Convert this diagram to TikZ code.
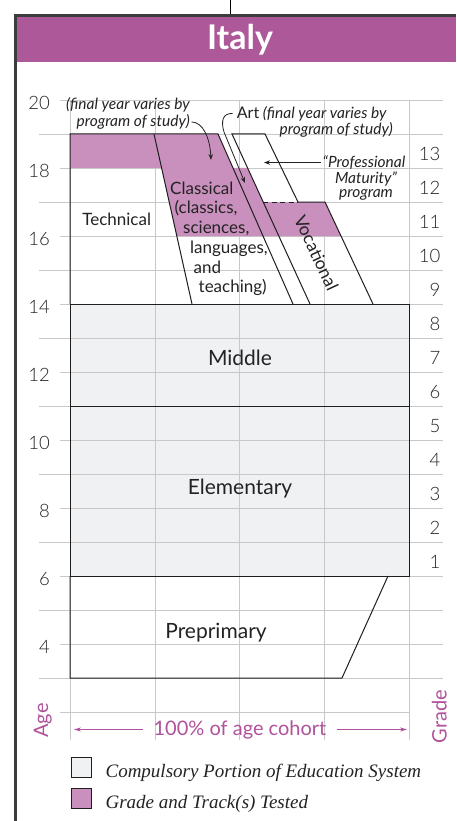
\documentclass[tikz,border=0pt]{standalone}
\usepackage{fontspec}
\setmainfont{Lato}
\IfFontExistsTF{Lato Light}{\newfontfamily\numfont{Lato Light}}{\newfontfamily\numfont{Lato}}
\newfontfamily\legendfont{Liberation Serif}
\usetikzlibrary{arrows.meta,positioning}
\definecolor{hdr}{RGB}{173,89,153}
\definecolor{testc}{RGB}{201,143,189}
\definecolor{compul}{RGB}{240,241,243}
\definecolor{gridc}{RGB}{200,200,200}
\definecolor{axisc}{RGB}{176,82,156}
\definecolor{framec}{RGB}{60,60,60}
\definecolor{boxc}{RGB}{30,30,30}
\definecolor{txtc}{RGB}{35,35,35}
\tikzset{
  gridline/.style={draw=gridc,line width=0.8pt},
  boxline/.style={draw=boxc,line width=1pt},
  stagelabel/.style={font=\fontsize{21}{24}\selectfont,text=txtc,inner sep=0pt,anchor=base},
  tracklabel/.style={font=\fontsize{17}{20}\selectfont,text=txtc,inner sep=0pt},
  agelabel/.style={font=\numfont\fontsize{18.5}{20}\selectfont,text=txtc,inner sep=0pt,anchor=base east},
  note/.style={font=\itshape\fontsize{15.5}{17}\selectfont,text=txtc,inner sep=0pt},
  notearrow/.style={-{Stealth[length=6pt,width=4.5pt]},draw=txtc,line width=0.8pt},
  axislabel/.style={font=\fontsize{20}{22}\selectfont,text=axisc,inner sep=0pt,anchor=base},
  axisarrow/.style={-{Stealth[length=7pt,width=4pt]},draw=axisc,line width=0.8pt},
  legbox/.style={draw=boxc,line width=0.8pt,minimum size=20pt,inner sep=0pt},
  legtext/.style={font=\legendfont\itshape\fontsize{19}{22}\selectfont,text=txtc,inner sep=0pt}
}

\begin{document}
\begin{tikzpicture}[x=1pt,y=-1pt]
\useasboundingbox[fill=white] (0,0) rectangle (456,821);

% header and frame
\draw[line width=0.8pt] (230,0) -- (230,14);
\fill[hdr] (16,16) rectangle (456,62);
\draw[framec,line width=2.6pt] (15.3,821) -- (15.3,15.3) -- (456,15.3);
\node[font=\bfseries\fontsize{34}{36}\selectfont,text=white,inner sep=0pt,anchor=base] (title) at (240,49.5) {Italy};

% compulsory part
\fill[compul] (70,304) rectangle (409.5,576);

% grid
\foreach \a in {3,5,...,19} \draw[gridline] (39,780-34*\a) -- (443,780-34*\a);
\foreach \a in {4,6,...,20} \draw[gridline] (60,780-34*\a) -- (443,780-34*\a);
\draw[gridline] (60,712) -- (409.5,712);
\foreach \x in {70,154.9,239.8,324.6,409.5} \draw[gridline] (\x,100) -- (\x,740);

% tested grades
\fill[testc] (70,134) -- (218,134) -- (233,168) -- (247.6,168) -- (263.2,202) -- (325,202)
  -- (341,236) -- (176.8,236) -- (161.6,168) -- (70,168) -- cycle;

% tracks
\draw[boxline] (70,304) -- (70,134) -- (218,134) -- (293,304);
\draw[boxline] (154,134) -- (192,304);
\draw[boxline] (310,304) -- (232,134) -- (265,134) -- (298,202) -- (325,202) -- (373,304);
\draw[boxline,dash pattern=on 5pt off 3.5pt] (263.2,202) -- (298,202);
\draw[boxline] (70,304) rectangle (409.5,406);
\draw[boxline] (70,406) rectangle (409.5,576);
\draw[boxline] (388,576) -- (342,678) -- (70,678) -- (70,576);

% ages and grades
\foreach \a in {4,6,...,20} \node[agelabel] (age\a) at (50,789.5-34*\a) {\a};
\foreach \g in {1,...,13} \node[agelabel] (grade\g) at (440.5,602.3-34*\g) {\g};

% stage names
\node[stagelabel] (middle) at (240,365) {Middle};
\node[stagelabel] (elem) at (240,494) {Elementary};
\node[stagelabel] (prep) at (216,638) {Preprimary};
\node[tracklabel,anchor=base] (tech) at (116.7,225) {Technical};
\node[tracklabel,anchor=base west] (clsA) at (170,194) {Classical};
\node[tracklabel,anchor=base west] (clsB) at (174.5,213.7) {(classics,};
\node[tracklabel,anchor=base west] (clsC) at (183,233.5) {sciences,};
\node[tracklabel,anchor=base west] (clsD) at (190,253.3) {languages,};
\node[tracklabel,anchor=base west] (clsE) at (193.5,273) {and};
\node[tracklabel,anchor=base west] (clsF) at (198.5,292.8) {teaching)};
\node[tracklabel,font=\fontsize{17.5}{20}\selectfont,rotate=-65] (voc) at (316.5,253) {Vocational};

% notes
\node[note,anchor=base east] (finalA) at (190,110) {(final year varies by};
\node[note,anchor=base east] (finalB) at (190,126.5) {program of study)};
\coordinate (finaltip) at (211,160);
\draw[notearrow,shorten <=1.5pt] (finalB.east) .. controls (203,122) and (210,138) .. (finaltip);

\node[note,anchor=base west] (artA) at (236.7,118.3) {{\upshape\fontsize{16}{18}\selectfont Art} (final year varies by};
\node[note,anchor=base east] (artB) at (393,134.5) {program of study)};
\coordinate (arttip) at (245,183);
\draw[notearrow,shorten <=4pt] (artA.west) .. controls (222,113) and (221,122) .. (224,132) -- (arttip);

\node[note,anchor=base] (pmA) at (364,167.5) {“Professional};
\node[note,anchor=base] (pmB) at (366,183) {Maturity”};
\node[note,anchor=base] (pmC) at (366,197.5) {program};
\coordinate (pmtip) at (264,0);
\draw[notearrow,shorten <=2pt] (pmA.west) -- (pmA.west -| pmtip);

% axis titles
\node[axislabel,rotate=90] (agetitle) at (48,720.5) {Age};
\node[axislabel,rotate=90] (gradetitle) at (446.5,716.7) {Grade};
\node[axislabel] (cohort) at (240,735) {100\% of age cohort};
\coordinate (cohortL) at (74,0);
\coordinate (cohortR) at (407,0);
\draw[axisarrow,shorten <=10pt] (cohort.west) -- (cohort.west -| cohortL);
\draw[axisarrow,shorten <=10pt] (cohort.east) -- (cohort.east -| cohortR);

% legend
\node[legbox,fill=compul] (legA) at (81,767) {};
\node[legbox,fill=testc] (legB) at (81,798) {};
\node[legtext,right=14pt of legA.south east,anchor=base west] (legAtext) {Compulsory Portion of Education System};
\node[legtext,right=14pt of legB.south east,anchor=base west] (legBtext) {Grade and Track(s) Tested};
\end{tikzpicture}
\end{document}
